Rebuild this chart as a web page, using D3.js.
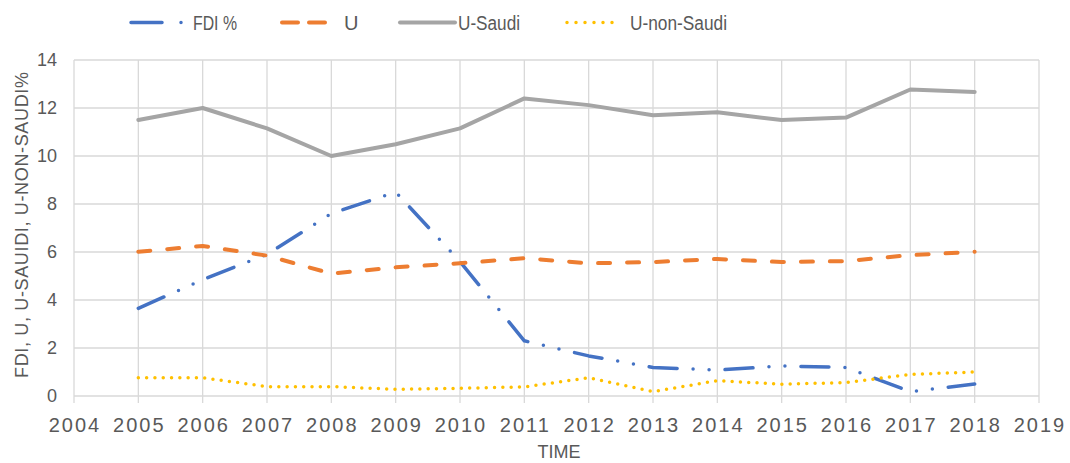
<!DOCTYPE html>
<html>
<head>
<meta charset="utf-8">
<script src="https://cdn.jsdelivr.net/npm/d3@7"></script>
<style>
  body { margin: 0; background: #fff; }
  svg { display: block; }
</style>
</head>
<body>
<div id="chart"></div>
<script>
var years = [2005, 2006, 2007, 2008, 2009, 2010, 2011, 2012, 2013, 2014, 2015, 2016, 2017, 2018];
var fdi = [3.65, 4.85, 5.9, 7.6, 8.5, 5.6, 2.3, 1.67, 1.19, 1.08, 1.25, 1.19, 0.18, 0.5];
var u = [6.01, 6.25, 5.85, 5.1, 5.36, 5.53, 5.74, 5.53, 5.58, 5.71, 5.58, 5.62, 5.87, 6.01];
var uSaudi = [11.5, 12.0, 11.15, 10.0, 10.49, 11.15, 12.4, 12.12, 11.7, 11.82, 11.5, 11.6, 12.77, 12.67];
var uNonSaudi = [0.76, 0.76, 0.39, 0.39, 0.28, 0.32, 0.38, 0.76, 0.18, 0.64, 0.49, 0.56, 0.9, 1.0];
var yTicks = [0, 2, 4, 6, 8, 10, 12, 14];
var xTicks = [2004, 2005, 2006, 2007, 2008, 2009, 2010, 2011, 2012, 2013, 2014, 2015, 2016, 2017, 2018, 2019];

var series = [
  {name: "FDI %", values: fdi, color: "#4472C4", width: 3.5, dash: "28,16,0,16,0,16"},
  {name: "U", values: u, color: "#ED7D31", width: 4, dash: "12,17"},
  {name: "U-Saudi", values: uSaudi, color: "#A5A5A5", width: 4, dash: null},
  {name: "U-non-Saudi", values: uNonSaudi, color: "#FFC000", width: 3.5, dash: "0,8.3"}
];

var W = 1070, H = 463;
var margin = {top: 60, right: 31, bottom: 67, left: 74};

var svg = d3.select("#chart").append("svg")
  .attr("width", W)
  .attr("height", H);

var x = d3.scaleLinear().domain([2004, 2019]).range([margin.left, W - margin.right]);
var y = d3.scaleLinear().domain([0, 14]).range([H - margin.bottom, margin.top]);

var grid = "#D9D9D9";
var textCol = "#595959";
var font = "'Liberation Sans', Arial, sans-serif";

// horizontal gridlines
svg.append("g").selectAll("line")
  .data(yTicks).join("line")
  .attr("x1", x(2004)).attr("x2", x(2019))
  .attr("y1", d => y(d)).attr("y2", d => y(d))
  .attr("stroke", grid).attr("stroke-width", 1.3);

// vertical gridlines, with tick stub below
svg.append("g").selectAll("line")
  .data(xTicks).join("line")
  .attr("x1", d => x(d)).attr("x2", d => x(d))
  .attr("y1", y(14)).attr("y2", y(0) + 7)
  .attr("stroke", grid).attr("stroke-width", 1.3);

// y tick labels
svg.append("g").selectAll("text")
  .data(yTicks).join("text")
  .attr("x", 57)
  .attr("y", d => y(d))
  .attr("dy", "0.36em")
  .attr("text-anchor", "end")
  .attr("font-family", font)
  .attr("font-size", 18)
  .attr("fill", textCol)
  .text(d => d);

// x tick labels
svg.append("g").selectAll("text")
  .data(xTicks).join("text")
  .attr("x", d => x(d) + 1)
  .attr("y", 432)
  .attr("text-anchor", "middle")
  .attr("font-family", font)
  .attr("font-size", 20)
  .attr("letter-spacing", 2)
  .attr("fill", textCol)
  .text(d => d);

// axis titles
svg.append("text")
  .attr("x", 559).attr("y", 458)
  .attr("text-anchor", "middle")
  .attr("font-family", font)
  .attr("font-size", 18)
  .attr("fill", textCol)
  .text("TIME");

svg.append("text")
  .attr("transform", "translate(28,225) rotate(-90)")
  .attr("text-anchor", "middle")
  .attr("font-family", font)
  .attr("font-size", 18)
  .attr("textLength", 306)
  .attr("lengthAdjust", "spacing")
  .attr("fill", textCol)
  .text("FDI, U, U-SAUIDI, U-NON-SAUDI%");

// lines
var line = d3.line()
  .x((d, i) => x(years[i]))
  .y(d => y(d));

svg.append("g").selectAll("path")
  .data(series).join("path")
  .attr("d", d => line(d.values))
  .attr("fill", "none")
  .attr("stroke", d => d.color)
  .attr("stroke-width", d => d.width)
  .attr("stroke-dasharray", d => d.dash)
  .attr("stroke-linecap", "round")
  .attr("stroke-linejoin", "round");

// legend
var legendPos = [
  {x1: 131, x2: 183, tx: 193, tw: 44, dash: "31,19,0,40"},
  {x1: 282, x2: 325, tx: 344, tw: null, dash: "16,11"},
  {x1: 400, x2: 455, tx: 458, tw: 62, dash: null},
  {x1: 567, x2: 621, tx: 630, tw: 97, dash: "0,9"}
];
var lg = svg.append("g").selectAll("g")
  .data(series).join("g");

lg.append("line")
  .attr("x1", (d, i) => legendPos[i].x1)
  .attr("x2", (d, i) => legendPos[i].x2)
  .attr("y1", 22.5).attr("y2", 22.5)
  .attr("stroke", d => d.color)
  .attr("stroke-width", d => d.width)
  .attr("stroke-dasharray", (d, i) => legendPos[i].dash)
  .attr("stroke-linecap", "round");

lg.append("text")
  .attr("x", (d, i) => legendPos[i].tx)
  .attr("y", 22.5)
  .attr("dy", "0.36em")
  .attr("font-family", font)
  .attr("font-size", 20)
  .attr("textLength", (d, i) => legendPos[i].tw)
  .attr("lengthAdjust", "spacingAndGlyphs")
  .attr("fill", textCol)
  .text(d => d.name);
</script>
</body>
</html>
